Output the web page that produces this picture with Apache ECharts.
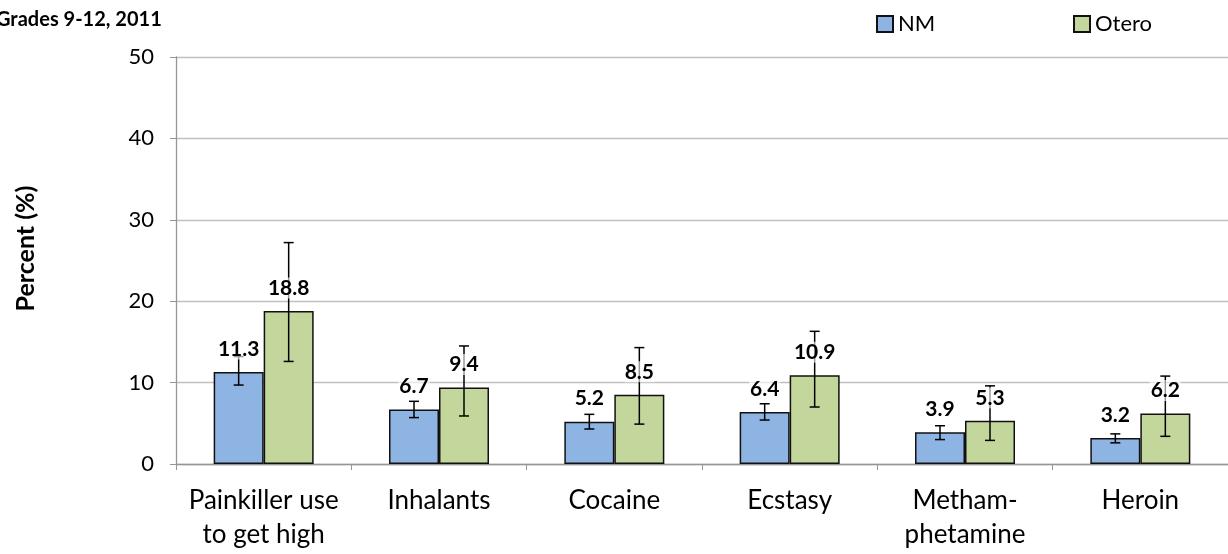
<!DOCTYPE html>
<html>
<head>
<meta charset="utf-8">
<script src="https://cdn.jsdelivr.net/npm/echarts@6/dist/echarts.min.js"></script>
<style>
  html, body { margin: 0; padding: 0; background: #fff; }
  #chart { width: 1228px; height: 554px; }
</style>
</head>
<body>
<div id="chart"></div>
<script>
// data
const categories = ["Painkiller use\nto get high", "Inhalants", "Cocaine", "Ecstasy", "Metham-\nphetamine", "Heroin"];
const nmValues = [11.3, 6.7, 5.2, 6.4, 3.9, 3.2];
const nmLow = [9.7, 5.7, 4.3, 5.4, 3.0, 2.6];
const nmHigh = [13.2, 7.7, 6.1, 7.4, 4.7, 3.7];
const oteroValues = [18.8, 9.4, 8.5, 10.9, 5.3, 6.2];
const oteroLow = [12.6, 5.9, 4.9, 7.0, 2.9, 3.4];
const oteroHigh = [27.2, 14.5, 14.3, 16.3, 9.6, 10.8];
const yTicks = [0, 10, 20, 30, 40, 50];

const FONT = "Lato";
const BAR_W = 50;

// error bar + value label, drawn above the bars
function errRender(offset) {
  return function (params, api) {
    const i = api.value(0);
    const top = api.coord([i, api.value(3)]);
    const bot = api.coord([i, api.value(2)]);
    const val = api.coord([i, api.value(1)]);
    const x = top[0] + offset;
    const cap = 5;
    const style = { stroke: "#000", lineWidth: 1.5 };
    return {
      type: "group",
      children: [
        { type: "text", z2: 5, style: {
            text: api.value(1).toFixed(1), x: x, y: val[1] - 23,
            align: "center", verticalAlign: "middle",
            font: "bold 21px " + FONT, fill: "#000",
            backgroundColor: "rgba(255,255,255,0.6)", padding: [0, 1]
          } },
        { type: "line", z2: 1, shape: { x1: x, y1: top[1], x2: x, y2: bot[1] }, style: style },
        { type: "line", z2: 1, shape: { x1: x - cap, y1: top[1], x2: x + cap, y2: top[1] }, style: style },
        { type: "line", z2: 1, shape: { x1: x - cap, y1: bot[1], x2: x + cap, y2: bot[1] }, style: style }
      ]
    };
  };
}

const chart = echarts.init(document.getElementById("chart"));
chart.setOption({
  animation: false,
  textStyle: { fontFamily: FONT },
  title: {
    text: "Grades 9-12, 2011", left: -9, top: 5,
    textStyle: { fontSize: 20, fontWeight: "bold", color: "#000", fontFamily: FONT }
  },
  legend: [
    { data: ["NM"], icon: "rect", left: 871, top: 8, itemWidth: 16, itemHeight: 16, itemGap: 0,
      textStyle: { fontSize: 22, color: "#000" } },
    { data: ["Otero"], icon: "rect", left: 1068, top: 8, itemWidth: 16, itemHeight: 16, itemGap: 0,
      textStyle: { fontSize: 22, color: "#000" } }
  ],
  grid: { left: 176, top: 57, bottom: 90, width: 1058 },
  xAxis: {
    type: "category",
    data: categories,
    axisLine: { lineStyle: { color: "#969696", width: 1.3 } },
    axisTick: { show: true, length: 6, lineStyle: { color: "#969696" } },
    axisLabel: { fontSize: 26, color: "#000", lineHeight: 34, margin: 20, interval: 0 }
  },
  yAxis: {
    type: "value",
    min: yTicks[0], max: yTicks[yTicks.length - 1], interval: 10,
    name: "Percent (%)", nameLocation: "middle", nameGap: 138,
    nameTextStyle: { fontSize: 25, fontWeight: "bold", color: "#000", padding: [0, 0, 0, 24] },
    axisLine: { show: true, lineStyle: { color: "#969696", width: 1.3 } },
    axisTick: { show: true, length: 6, lineStyle: { color: "#969696" } },
    axisLabel: { fontSize: 22, color: "#000", margin: 22 },
    splitLine: { lineStyle: { color: "#c0c0c0", width: 1.3 } }
  },
  series: [
    { name: "NM", type: "bar", data: nmValues, barWidth: BAR_W, barGap: "0%", z: 2,
      itemStyle: { color: "#8EB4E3", borderColor: "#111", borderWidth: 1.5 } },
    { name: "Otero", type: "bar", data: oteroValues, barWidth: BAR_W, barGap: "0%", z: 2,
      itemStyle: { color: "#C3D69B", borderColor: "#111", borderWidth: 1.5 } },
    { type: "custom", z: 3, renderItem: errRender(-BAR_W / 2),
      data: nmValues.map((v, i) => [i, v, nmLow[i], nmHigh[i]]) },
    { type: "custom", z: 3, renderItem: errRender(BAR_W / 2),
      data: oteroValues.map((v, i) => [i, v, oteroLow[i], oteroHigh[i]]) }
  ]
});
</script>
</body>
</html>
